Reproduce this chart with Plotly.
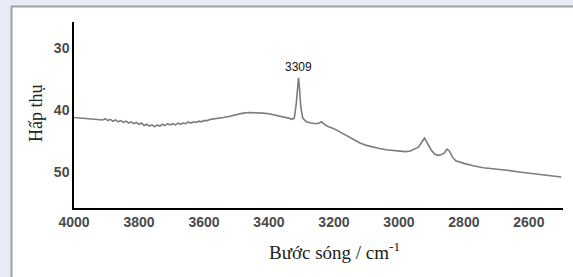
import plotly.graph_objects as go

wavenumber = [4000, 3960, 3920, 3912, 3904, 3896, 3888, 3880, 3872, 3864, 3856, 3848, 3840, 3832, 3824,
              3816, 3808, 3800, 3792, 3784, 3776, 3768, 3760, 3752, 3744, 3736, 3728, 3720, 3712,
              3704, 3696, 3688, 3680, 3672, 3664, 3656, 3648, 3640, 3632, 3624, 3616, 3608, 3600,
              3590, 3580, 3560, 3540, 3520, 3500, 3480, 3460, 3440, 3420, 3400, 3380, 3360, 3340,
              3330, 3322, 3316, 3312, 3309, 3306, 3302, 3296, 3285, 3270, 3255, 3245, 3238, 3232,
              3220, 3200, 3180, 3160, 3140, 3120, 3100, 3080, 3060, 3040, 3020, 3000, 2980, 2965,
              2950, 2940, 2930, 2921, 2912, 2900, 2890, 2880, 2870, 2860, 2852, 2845, 2835, 2825,
              2800, 2772, 2740, 2700, 2668, 2630, 2600, 2560, 2530, 2500]
absorbance = [41.2, 41.4, 41.6, 41.6, 41.4, 41.7, 41.5, 41.8, 41.6, 41.9, 41.7, 42.0, 41.8, 42.1, 41.9,
              42.2, 42.0, 42.3, 42.1, 42.5, 42.3, 42.6, 42.4, 42.7, 42.4, 42.6, 42.3, 42.5, 42.2,
              42.4, 42.2, 42.4, 42.1, 42.3, 42.1, 42.2, 41.9, 42.1, 41.9, 42.0, 41.8, 41.9, 41.7,
              41.7, 41.5, 41.4, 41.2, 41.0, 40.7, 40.5, 40.4, 40.4, 40.5, 40.6, 40.8, 41.0, 41.3,
              41.5, 41.3, 39.0, 36.0, 34.8, 36.5, 39.5, 41.3, 41.9, 42.1, 42.2, 42.1, 41.9, 42.2,
              42.6, 43.0, 43.6, 44.2, 44.8, 45.3, 45.7, 46.0, 46.2, 46.4, 46.5, 46.6, 46.7, 46.6,
              46.2, 46.0, 45.2, 44.5, 45.4, 46.5, 47.1, 47.3, 47.2, 46.9, 46.3, 46.6, 47.6, 48.2,
              48.6, 49.0, 49.3, 49.5, 49.7, 50.0, 50.2, 50.5, 50.7, 50.8]

x_ticks = [4000, 3800, 3600, 3400, 3200, 3000, 2800, 2600]
y_ticks = [30, 40, 50]
peak_label = "3309"
peak_x = 3309
peak_y = 34.8

fig = go.Figure()
fig.add_trace(go.Scatter(x=wavenumber, y=absorbance, mode="lines",
                         line=dict(color="#7c7c7c", width=1.6), showlegend=False, hoverinfo="skip"))

W, H = 573, 277
ml, mr, mt, mb = 74, 10, 22, 69
pw, ph = W - ml - mr, H - mt - mb

def px(x):
    return (x - ml) / pw

def py(y):
    return (H - mb - y) / ph

tick_font = dict(family="Arial, Liberation Sans", size=14, color="#4a4a4a", weight="bold")

fig.update_layout(
    width=W, height=H,
    margin=dict(l=ml, r=mr, t=mt, b=mb, pad=0),
    paper_bgcolor="#E7EBF5",
    plot_bgcolor="rgba(0,0,0,0)",
    font=dict(family="Arial, Liberation Sans", color="#333"),
    xaxis=dict(range=[4000, 2495], tickvals=x_ticks, ticktext=[str(v) for v in x_ticks],
               showline=True, linecolor="#000", linewidth=1.5, showgrid=False, zeroline=False,
               ticks="", tickfont=tick_font, ticklabelstandoff=0, automargin=False),
    yaxis=dict(range=[55.8, 25.8], tickvals=y_ticks, ticktext=[str(v) for v in y_ticks],
               showline=True, linecolor="#000", linewidth=1.5, showgrid=False, zeroline=False,
               ticks="", tickfont=tick_font, ticklabelstandoff=0, automargin=False),
    shapes=[
        dict(type="rect", xref="paper", yref="paper", x0=px(11), x1=px(W + 5), y0=py(H + 5), y1=py(6),
             fillcolor="white", line=dict(width=0), layer="below"),
        dict(type="line", xref="paper", yref="paper", x0=px(11), x1=px(W + 5), y0=py(6.5), y1=py(6.5),
             line=dict(color="#a0a0a0", width=2), layer="below"),
        dict(type="line", xref="paper", yref="paper", x0=px(11.5), x1=px(11.5), y0=py(6), y1=py(H + 5),
             line=dict(color="#a0a0a0", width=2), layer="below"),
    ],
    annotations=[
        dict(x=peak_x, y=peak_y, xref="x", yref="y", text=peak_label, showarrow=False,
             yshift=11, font=dict(family="Arial, Liberation Sans", size=12, color="#111")),
        dict(x=px(334), y=py(251), xref="paper", yref="paper", xanchor="center", yanchor="middle",
             text="Bước sóng / cm<sup>-1</sup>",
             showarrow=False, font=dict(family="Times New Roman, Liberation Serif", size=19, color="#222")),
        dict(x=px(36), y=py(113), xref="paper", yref="paper", xanchor="center", yanchor="middle",
             text="Hấp thụ", textangle=-90,
             showarrow=False, font=dict(family="Times New Roman, Liberation Serif", size=18, color="#222")),
    ],
)

fig.write_html("out.html", config={"displayModeBar": False},
               post_script="document.body.style.margin='0';")
